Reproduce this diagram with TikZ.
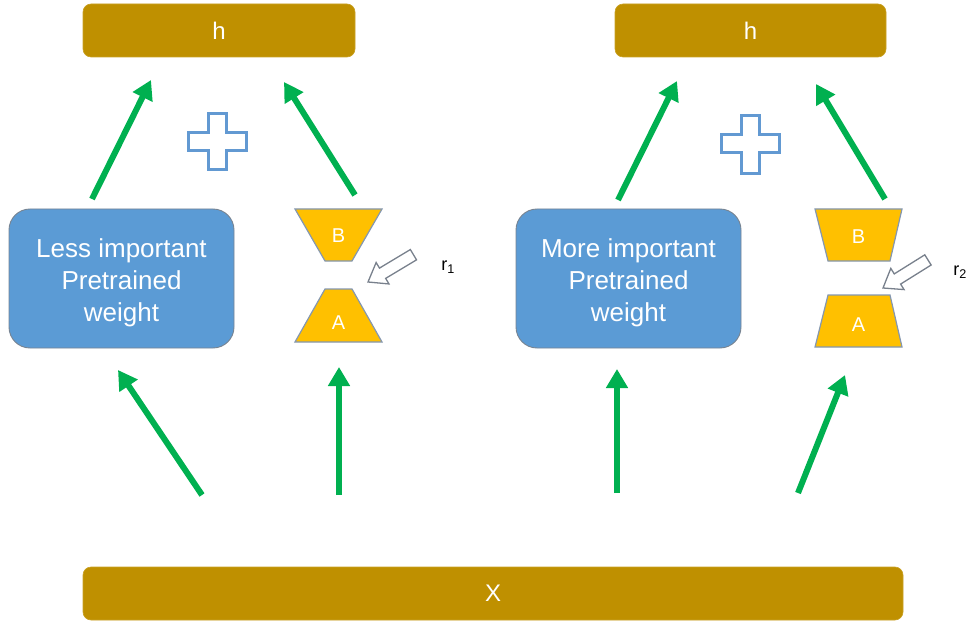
\documentclass[tikz,border=0pt]{standalone}
\usepackage{fontspec}
\setmainfont{Liberation Sans}
\usetikzlibrary{arrows.meta,calc}
\definecolor{gold}{RGB}{191,144,0}
\definecolor{wblue}{RGB}{91,155,213}
\definecolor{wborder}{RGB}{120,132,146}
\definecolor{trapfill}{RGB}{255,192,0}
\definecolor{trapborder}{RGB}{132,151,176}
\definecolor{agreen}{RGB}{0,176,80}
\definecolor{plusblue}{RGB}{98,153,210}
\definecolor{hollowgray}{RGB}{120,128,140}
\tikzset{
  goldbar/.style={fill=gold, draw=gold!85!white, line width=0.6pt, rounded corners=8pt, text=white,
    minimum height=53pt, inner sep=0pt, font=\fontsize{24}{28}\selectfont},
  weightbox/.style={fill=wblue, draw=wborder, line width=0.9pt, rounded corners=21pt,
    minimum width=225pt, minimum height=139pt, inner sep=0pt},
  weighttext/.style={text=white, align=center, inner sep=0pt, font=\fontsize{26}{32}\selectfont},
  trap/.style={fill=trapfill, draw=trapborder, line width=1.2pt},
  traptext/.style={text=white, inner sep=0pt, font=\fontsize{20}{24}\selectfont},
  flow/.style={draw=agreen, line width=6pt, -{Triangle[width=21pt,length=19pt]}},
  plusshape/.style={draw=plusblue, line width=3pt, fill=white},
  hollow/.style={draw=hollowgray, line width=1.3pt, fill=white, line join=miter},
  rlabel/.style={inner sep=0pt, font=\fontsize{18}{20}\selectfont}
}
\newcommand{\hollowarrow}[3]{% tip x, tip y, angle
  \draw[hollow, shift={(#1,#2)}, rotate=#3]
    (0,0) -- (17,12.5) -- (17,6) -- (53,6) -- (53,-6) -- (17,-6) -- (17,-12.5) -- cycle;}
\begin{document}
\begin{tikzpicture}[x=1pt,y=1pt]
\useasboundingbox (0,0) rectangle (968,622);
% output bars
\node[goldbar, minimum width=272pt] (h1) at (219,591.5) {h};
\node[goldbar, minimum width=271pt] (h2) at (750.5,591.5) {h};
\node[goldbar, minimum width=820pt] (X) at (493,28.5) {X};
% weight boxes
\node[weightbox] (W1) at (121.5,343.5) {};
\node[weighttext] (W1t) at (121.5,339.5) {Less important\\Pretrained\\weight};
\node[weightbox] (W2) at (628.5,343.5) {};
\node[weighttext] (W2t) at (628.5,339.5) {More important\\Pretrained\\weight};
% left adapter
\draw[trap] (295,413) -- (382,413) -- (352,361) -- (325,361) -- cycle;
\node[traptext] (B1) at (338.5,386) {B};
\draw[trap] (325,333) -- (352,333) -- (382,280) -- (295,280) -- cycle;
\node[traptext] (A1) at (338.5,299) {A};
% right adapter
\draw[trap] (815,413) -- (902,413) -- (890,361) -- (828,361) -- cycle;
\node[traptext] (B2) at (858.5,385) {B};
\draw[trap] (828,327) -- (890,327) -- (902,275) -- (815,275) -- cycle;
\node[traptext] (A2) at (858.5,297) {A};
% plus signs
\draw[plusshape] (208.5,508.5) -- (226.5,508.5) -- (226.5,489.5) -- (246.5,489.5) -- (246.5,471.5)
  -- (226.5,471.5) -- (226.5,452.5) -- (208.5,452.5) -- (208.5,471.5) -- (188.5,471.5)
  -- (188.5,489.5) -- (208.5,489.5) -- cycle;
\draw[plusshape] (741.5,506.5) -- (759.5,506.5) -- (759.5,487.5) -- (779.5,487.5) -- (779.5,469.5)
  -- (759.5,469.5) -- (759.5,448.5) -- (741.5,448.5) -- (741.5,469.5) -- (721.5,469.5)
  -- (721.5,487.5) -- (741.5,487.5) -- cycle;
% hollow rank arrows
\hollowarrow{368}{340}{31}
\hollowarrow{883}{334}{32}
\node[rlabel] (r1) at (448,355) {r\textsubscript{1}};
\node[rlabel] (r2) at (960,350) {r\textsubscript{2}};
% flow arrows coordinates
\coordinate (a1s) at (92,423);  \coordinate (a1e) at (151,542);
\coordinate (a2s) at (355,427); \coordinate (a2e) at (284,540);
\coordinate (a3s) at (618,422); \coordinate (a3e) at (677,541);
\coordinate (a4s) at (885,423); \coordinate (a4e) at (816,538);
\coordinate (b1s) at (202,127); \coordinate (b1e) at (118,252);
\coordinate (b2s) at (339,127); \coordinate (b2e) at (339,255);
\coordinate (b3s) at (617,129); \coordinate (b3e) at (617,253);
\coordinate (b4s) at (798,129); \coordinate (b4e) at (845,247);
\draw[flow] (a1s) -- (a1e);
\draw[flow] (a2s) -- (a2e);
\draw[flow] (a3s) -- (a3e);
\draw[flow] (a4s) -- (a4e);
\draw[flow] (b1s) -- (b1e);
\draw[flow] (b2s) -- (b2e);
\draw[flow] (b3s) -- (b3e);
\draw[flow] (b4s) -- (b4e);
\end{tikzpicture}
\end{document}
